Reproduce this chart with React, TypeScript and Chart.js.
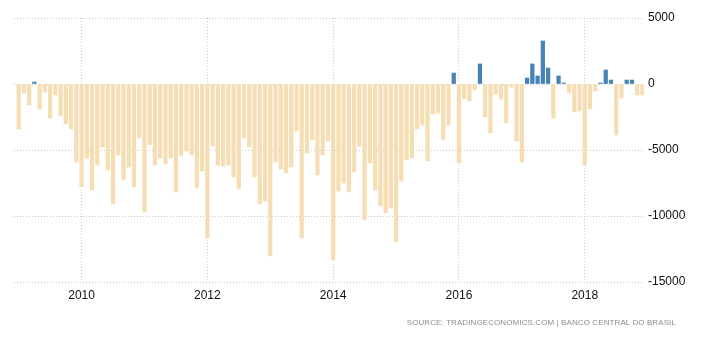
import React, { useEffect, useRef } from "react";
import { Chart, registerables } from "chart.js";

Chart.register(...registerables);

const startYear = 2009;
const v2009 = [-3410, -680, -1590, 150, -1890, -610, -2580, -830, -2420, -3030, -3410, -5910];
const v2010 = [-7800, -5610, -8030, -6140, -4770, -6520, -9090, -5380, -7270, -6290, -7800, -4090];
const v2011 = [-9700, -4620, -6140, -5610, -6060, -5610, -8180, -5450, -5080, -5380, -7880, -6590];
const v2012 = [-11670, -4700, -6140, -6210, -6140, -7050, -7950, -4090, -4770, -7050, -9090, -8860];
const v2013 = [-13030, -5910, -6440, -6740, -6290, -3560, -11670, -5230, -4240, -6890, -5380, -4320];
const v2014 = [-13330, -8110, -7500, -8180, -6670, -4700, -10300, -5980, -8030, -9240, -9770, -9390];
const v2015 = [-11970, -7350, -5760, -5610, -3410, -3110, -5830, -2270, -2200, -4240, -3110, 830];
const v2016 = [-5980, -1140, -1290, -450, 1520, -2500, -3710, -760, -1140, -2950, -230, -4320];
const v2017 = [-5910, 450, 1520, 610, 3260, 1210, -2580, 610, 80, -680, -2120, -2050];
const v2018 = [-6140, -1890, -530, 80, 1060, 300, -3860, -1060, 300, 300, -830, -830];

const yearlyValues = [v2009, v2010, v2011, v2012, v2013, v2014, v2015, v2016, v2017, v2018];
const xTickYears = [2010, 2012, 2014, 2016, 2018];
const yTicks = [5000, 0, -5000, -10000, -15000];

const positiveColor = "#4682B4";
const negativeColor = "#F5DEB3";
const gridColor = "#c8c8c8";

export default function App() {
  const ref = useRef<HTMLCanvasElement | null>(null);

  useEffect(() => {
    const values = yearlyValues.flat();
    const points = values.map((v, i) => ({ x: i, y: v }));
    const chart = new Chart(ref.current as HTMLCanvasElement, {
      type: "bar",
      data: {
        datasets: [
          {
            data: points as any,
            backgroundColor: values.map((v) => (v >= 0 ? positiveColor : negativeColor)),
            barThickness: 3.6,
            borderWidth: 0,
          },
        ],
      },
      options: {
        animation: false,
        responsive: false,
        maintainAspectRatio: false,
        layout: { padding: { left: 14, top: 18, right: 0, bottom: 0 } },
        plugins: { legend: { display: false }, tooltip: { enabled: false } },
        scales: {
          x: {
            type: "linear",
            offset: false,
            min: -0.89,
            max: 119.3,
            afterBuildTicks: (scale: any) => {
              scale.ticks = xTickYears.map((y) => ({ value: (y - startYear) * 12 }));
            },
            afterFit: (scale: any) => {
              scale.height = 59;
            },
            ticks: {
              autoSkip: false,
              maxRotation: 0,
              padding: 6,
              color: "#111",
              font: { family: "'Liberation Sans', Arial, sans-serif", size: 12 },
              callback: (v: any) => String(startYear + Number(v) / 12),
            },
            grid: {
              offset: false,
              color: gridColor,
              drawTicks: false,
            },
            border: { display: false, dash: [1, 2] },
          },
          y: {
            position: "right",
            min: -15000,
            max: 5000,
            afterBuildTicks: (scale: any) => {
              scale.ticks = yTicks.map((v) => ({ value: v }));
            },
            afterFit: (scale: any) => {
              scale.width = 64;
            },
            ticks: {
              padding: 4,
              color: "#111",
              font: { family: "'Liberation Sans', Arial, sans-serif", size: 12 },
              callback: (v: any) => String(v),
            },
            grid: { color: gridColor, drawTicks: false },
            border: { display: false, dash: [1, 2] },
          },
        },
      },
    });
    return () => chart.destroy();
  }, []);

  return (
    <div style={{ position: "absolute", left: 0, top: 0, width: 708, height: 341, background: "#fff" }}>
      <canvas ref={ref} width={708} height={341} style={{ display: "block", width: 708, height: 341 }} />
      <div
        style={{
          position: "absolute",
          right: 32,
          top: 318,
          fontFamily: "'Liberation Sans', Arial, sans-serif",
          fontSize: 8,
          color: "#8c8c8c",
          letterSpacing: 0.1,
          whiteSpace: "nowrap",
        }}
      >
        SOURCE: TRADINGECONOMICS.COM | BANCO CENTRAL DO BRASIL
      </div>
    </div>
  );
}
